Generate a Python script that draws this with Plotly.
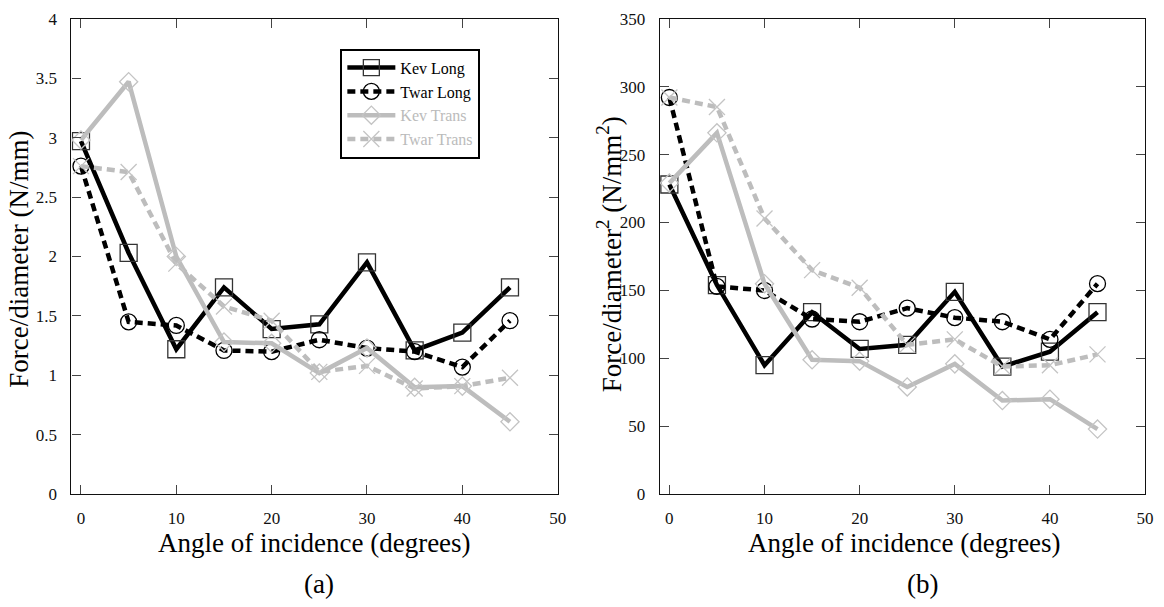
import plotly.graph_objects as go

# Angle of incidence (degrees)
angles = [0, 5, 10, 15, 20, 25, 30, 35, 40, 45]

# (a) Force / diameter (N/mm)
kev_long_a = [2.97, 2.03, 1.22, 1.74, 1.39, 1.43, 1.95, 1.21, 1.36, 1.74]
twar_long_a = [2.76, 1.45, 1.42, 1.21, 1.20, 1.30, 1.23, 1.20, 1.07, 1.46]
kev_trans_a = [2.98, 3.47, 2.00, 1.28, 1.27, 1.02, 1.23, 0.90, 0.91, 0.61]
twar_trans_a = [2.76, 2.71, 1.94, 1.58, 1.46, 1.03, 1.08, 0.89, 0.91, 0.98]

# (b) Force / diameter^2 (N/mm^2)
kev_long_b = [228, 154, 95, 134, 107, 110, 149, 94, 105, 134]
twar_long_b = [292, 153, 150, 129, 127, 137, 130, 127, 114, 155]
kev_trans_b = [229, 266, 155, 99, 98, 79, 96, 69, 70, 48]
twar_trans_b = [292, 285, 203, 165, 152, 110, 114, 94, 95, 103]

series_names = ["Kev Long", "Twar Long", "Kev Trans", "Twar Trans"]

BLACK = "#000000"
GREY = "#bdbdbd"
FONT = "Liberation Serif"

styles = [
    dict(line=dict(color=BLACK, width=4.5),
         marker=dict(symbol="square-open", size=17, color="#333333",
                     line=dict(width=1.3, color="#333333"))),
    dict(line=dict(color=BLACK, width=4.5, dash="8px,5px"),
         marker=dict(symbol="circle-open", size=16, color=BLACK,
                     line=dict(width=1.3, color=BLACK))),
    dict(line=dict(color=GREY, width=4.5),
         marker=dict(symbol="diamond-open", size=14, color="#c4c4c4",
                     line=dict(width=1.3, color="#c4c4c4"))),
    dict(line=dict(color=GREY, width=4.5, dash="8px,5px"),
         marker=dict(symbol="x-thin-open", size=16, color="#c4c4c4",
                     line=dict(width=1.3, color="#c4c4c4"))),
]
# Trans series use grey legend text, like their lines
legend_labels = [
    series_names[0],
    series_names[1],
    "<span style='color:#bbbbbb'>%s</span>" % series_names[2],
    "<span style='color:#bbbbbb'>%s</span>" % series_names[3],
]

fig = go.Figure()

panel_a = [kev_long_a, twar_long_a, kev_trans_a, twar_trans_a]
panel_b = [kev_long_b, twar_long_b, kev_trans_b, twar_trans_b]

for vals, st, lab in zip(panel_a, styles, legend_labels):
    fig.add_trace(go.Scatter(x=angles, y=vals, mode="lines+markers", name=lab,
                             line=st["line"], marker=st["marker"],
                             xaxis="x", yaxis="y", showlegend=True))
for vals, st, lab in zip(panel_b, styles, legend_labels):
    fig.add_trace(go.Scatter(x=angles, y=vals, mode="lines+markers", name=lab,
                             line=st["line"], marker=st["marker"],
                             xaxis="x2", yaxis="y2", showlegend=False))

W, H = 1164, 607
y_dom = [1 - 501 / H, 1 - 10 / H]

axis_common = dict(
    showgrid=False, zeroline=False, showline=True, linecolor="#111111",
    linewidth=1.2, mirror="ticks", ticks="inside", ticklen=9,
    tickcolor="#444444", tickwidth=1.2,
    tickfont=dict(family=FONT, size=17, color="#111111"),
)

fig.update_layout(
    width=W, height=H, autosize=False,
    margin=dict(l=0, r=0, t=0, b=0),
    paper_bgcolor="white", plot_bgcolor="white",
    xaxis=dict(domain=[72 / W, 562 / W], range=[-1, 50], dtick=10,
               tick0=0, anchor="y", ticklabelstandoff=8, **axis_common),
    yaxis=dict(domain=y_dom, range=[0, 4], dtick=0.5, tick0=0,
               anchor="x", ticklabelstandoff=10, **axis_common),
    xaxis2=dict(domain=[665 / W, 1154 / W], range=[-1, 50], dtick=10,
                tick0=0, anchor="y2", ticklabelstandoff=8, **axis_common),
    yaxis2=dict(domain=y_dom, range=[0, 350], dtick=50, tick0=0,
                anchor="x2", ticklabelstandoff=10, **axis_common),
    legend=dict(x=343 / W, y=1 - 41 / H, xanchor="left", yanchor="top",
                bordercolor="#000000", borderwidth=2, bgcolor="white",
                font=dict(family=FONT, size=16, color="#000000"),
                itemwidth=48, tracegroupgap=0),
    showlegend=True,
)

title_font = dict(family=FONT, size=27, color="#000000")
annotations = [
    dict(text="Angle of incidence (degrees)", x=317 / W, y=1 - 551 / H),
    dict(text="Angle of incidence (degrees)", x=912 / W, y=1 - 551 / H),
    dict(text="(a)", x=321 / W, y=1 - 594 / H),
    dict(text="(b)", x=930 / W, y=1 - 594 / H),
    dict(text="Force/diameter (N/mm)", x=19 / W, y=1 - 258 / H, textangle=-90),
    dict(text="Force/diameter<sup>2</sup> (N/mm<sup>2</sup>)", x=614 / W,
         y=1 - 253 / H, textangle=-90),
]
for a in annotations:
    fig.add_annotation(xref="paper", yref="paper", showarrow=False,
                       xanchor="center", yanchor="middle", font=title_font, **a)

fig.write_html("out.html")
